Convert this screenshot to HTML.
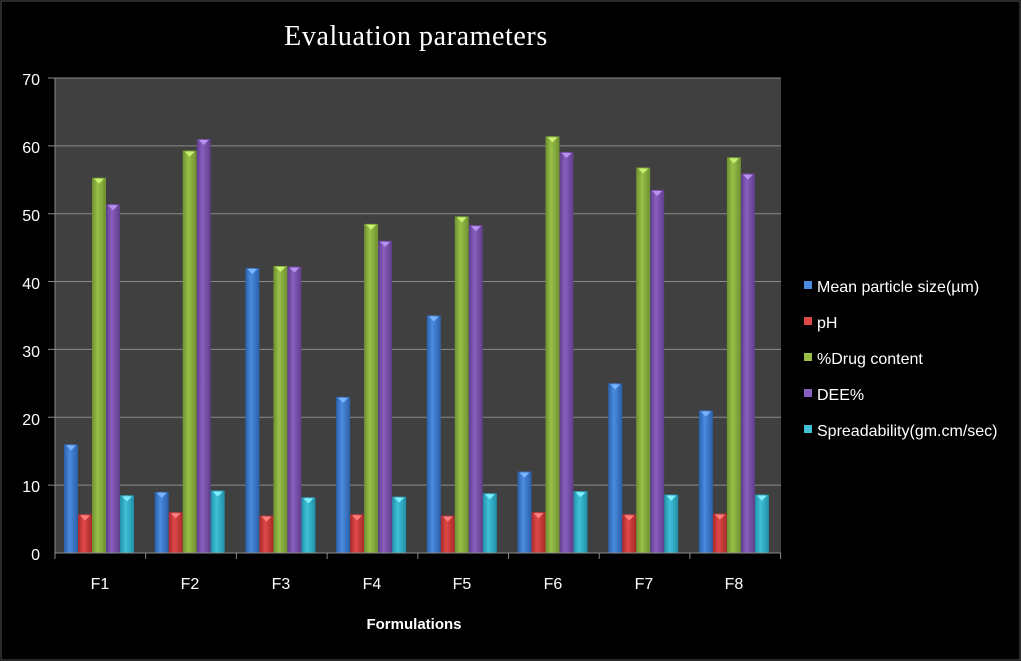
<!DOCTYPE html>
<html><head><meta charset="utf-8"><style>
html,body{margin:0;padding:0;background:#000;}
svg{display:block}
text{font-family:"Liberation Sans",sans-serif;fill:#fff}
</style></head><body>
<svg id="s" width="1021" height="661" viewBox="0 0 1021 661">
<defs>
<linearGradient id="g0" x1="0" x2="1"><stop offset="0" stop-color="#2a5fa8"/><stop offset=".4" stop-color="#4a8ce0"/><stop offset="1" stop-color="#2a5fa8"/></linearGradient>
<linearGradient id="g1" x1="0" x2="1"><stop offset="0" stop-color="#a82a2a"/><stop offset=".4" stop-color="#e04848"/><stop offset="1" stop-color="#a82a2a"/></linearGradient>
<linearGradient id="g2" x1="0" x2="1"><stop offset="0" stop-color="#6e9030"/><stop offset=".4" stop-color="#98c048"/><stop offset="1" stop-color="#6e9030"/></linearGradient>
<linearGradient id="g3" x1="0" x2="1"><stop offset="0" stop-color="#5e3e8a"/><stop offset=".4" stop-color="#8a5ec0"/><stop offset="1" stop-color="#5e3e8a"/></linearGradient>
<linearGradient id="g4" x1="0" x2="1"><stop offset="0" stop-color="#2090a8"/><stop offset=".4" stop-color="#40c0d8"/><stop offset="1" stop-color="#2090a8"/></linearGradient>
</defs>
<rect x="0" y="0" width="1021" height="661" fill="#000"/>
<rect x="1" y="1" width="1019" height="659" fill="none" stroke="#555" stroke-width="1"/>
<text x="416" y="45" text-anchor="middle" style="font-family:'Liberation Serif',serif;font-size:28px;letter-spacing:0.6px">Evaluation parameters</text>
<rect x="55" y="78" width="726" height="475" fill="#404040"/>
<g id="grid" stroke="#8a8a8a" stroke-width="1"></g>
<g id="bars"></g>
<line x1="55" y1="78" x2="55" y2="553" stroke="#8a8a8a"/>
<line x1="55" y1="553" x2="781" y2="553" stroke="#8a8a8a"/>
<g font-size="16" text-anchor="end">
<text x="40" y="85">70</text><text x="40" y="153">60</text><text x="40" y="221">50</text><text x="40" y="289">40</text><text x="40" y="357">30</text><text x="40" y="425">20</text><text x="40" y="492">10</text><text x="40" y="560">0</text>
</g>
<g font-size="16" text-anchor="middle">
<text x="100" y="589">F1</text><text x="190" y="589">F2</text><text x="281" y="589">F3</text><text x="372" y="589">F4</text><text x="462" y="589">F5</text><text x="553" y="589">F6</text><text x="644" y="589">F7</text><text x="734" y="589">F8</text>
</g>
<text x="414" y="629" text-anchor="middle" font-size="15" font-weight="bold">Formulations</text>
<g font-size="16">
<rect x="804" y="281" width="8" height="8" fill="#4a8ce0"/><text x="817" y="292">Mean particle size(µm)</text>
<rect x="804" y="317" width="8" height="8" fill="#e04848"/><text x="817" y="328">pH</text>
<rect x="804" y="353" width="8" height="8" fill="#98c048"/><text x="817" y="364">%Drug content</text>
<rect x="804" y="389" width="8" height="8" fill="#8a5ec0"/><text x="817" y="400">DEE%</text>
<rect x="804" y="425" width="8" height="8" fill="#40c0d8"/><text x="817" y="436">Spreadability(gm.cm/sec)</text>
</g>
</svg>
<script>
var ns="http://www.w3.org/2000/svg";
var grid=document.getElementById("grid"),bars=document.getElementById("bars");
function el(p,t,a){var e=document.createElementNS(ns,t);for(var k in a)e.setAttribute(k,a[k]);p.appendChild(e);return e;}
for(var v=10;v<=70;v+=10){var y=553-v*6.786;el(grid,"line",{x1:48,y1:y,x2:781,y2:y});}
for(var i=0;i<=8;i++){var x=55+i*90.7;el(grid,"line",{x1:x,y1:553,x2:x,y2:559});}
var d=[[16,5.7,55.3,51.4,8.5],[9,6,59.3,61,9.2],[42,5.5,42.3,42.2,8.2],[23,5.7,48.5,46,8.3],[35,5.5,49.6,48.3,8.8],[12,6,61.4,59.1,9.1],[25,5.7,56.8,53.5,8.6],[21,5.8,58.3,55.9,8.6]];
var cap=["#7ab4ff","#ff8080","#c8f070","#b890f0","#80f0ff"];
for(var i=0;i<8;i++)for(var k=0;k<5;k++){
 var x=55+i*90.7+9+k*14,y=553-d[i][k]*6.786;
 el(bars,"rect",{x:x,y:y,width:14,height:553-y,fill:"url(#g"+k+")"});
 el(bars,"polygon",{points:(x+2)+","+(y+1)+" "+(x+12)+","+(y+1)+" "+(x+7)+","+(y+6),fill:cap[k]});
}
</script>
</body></html>
